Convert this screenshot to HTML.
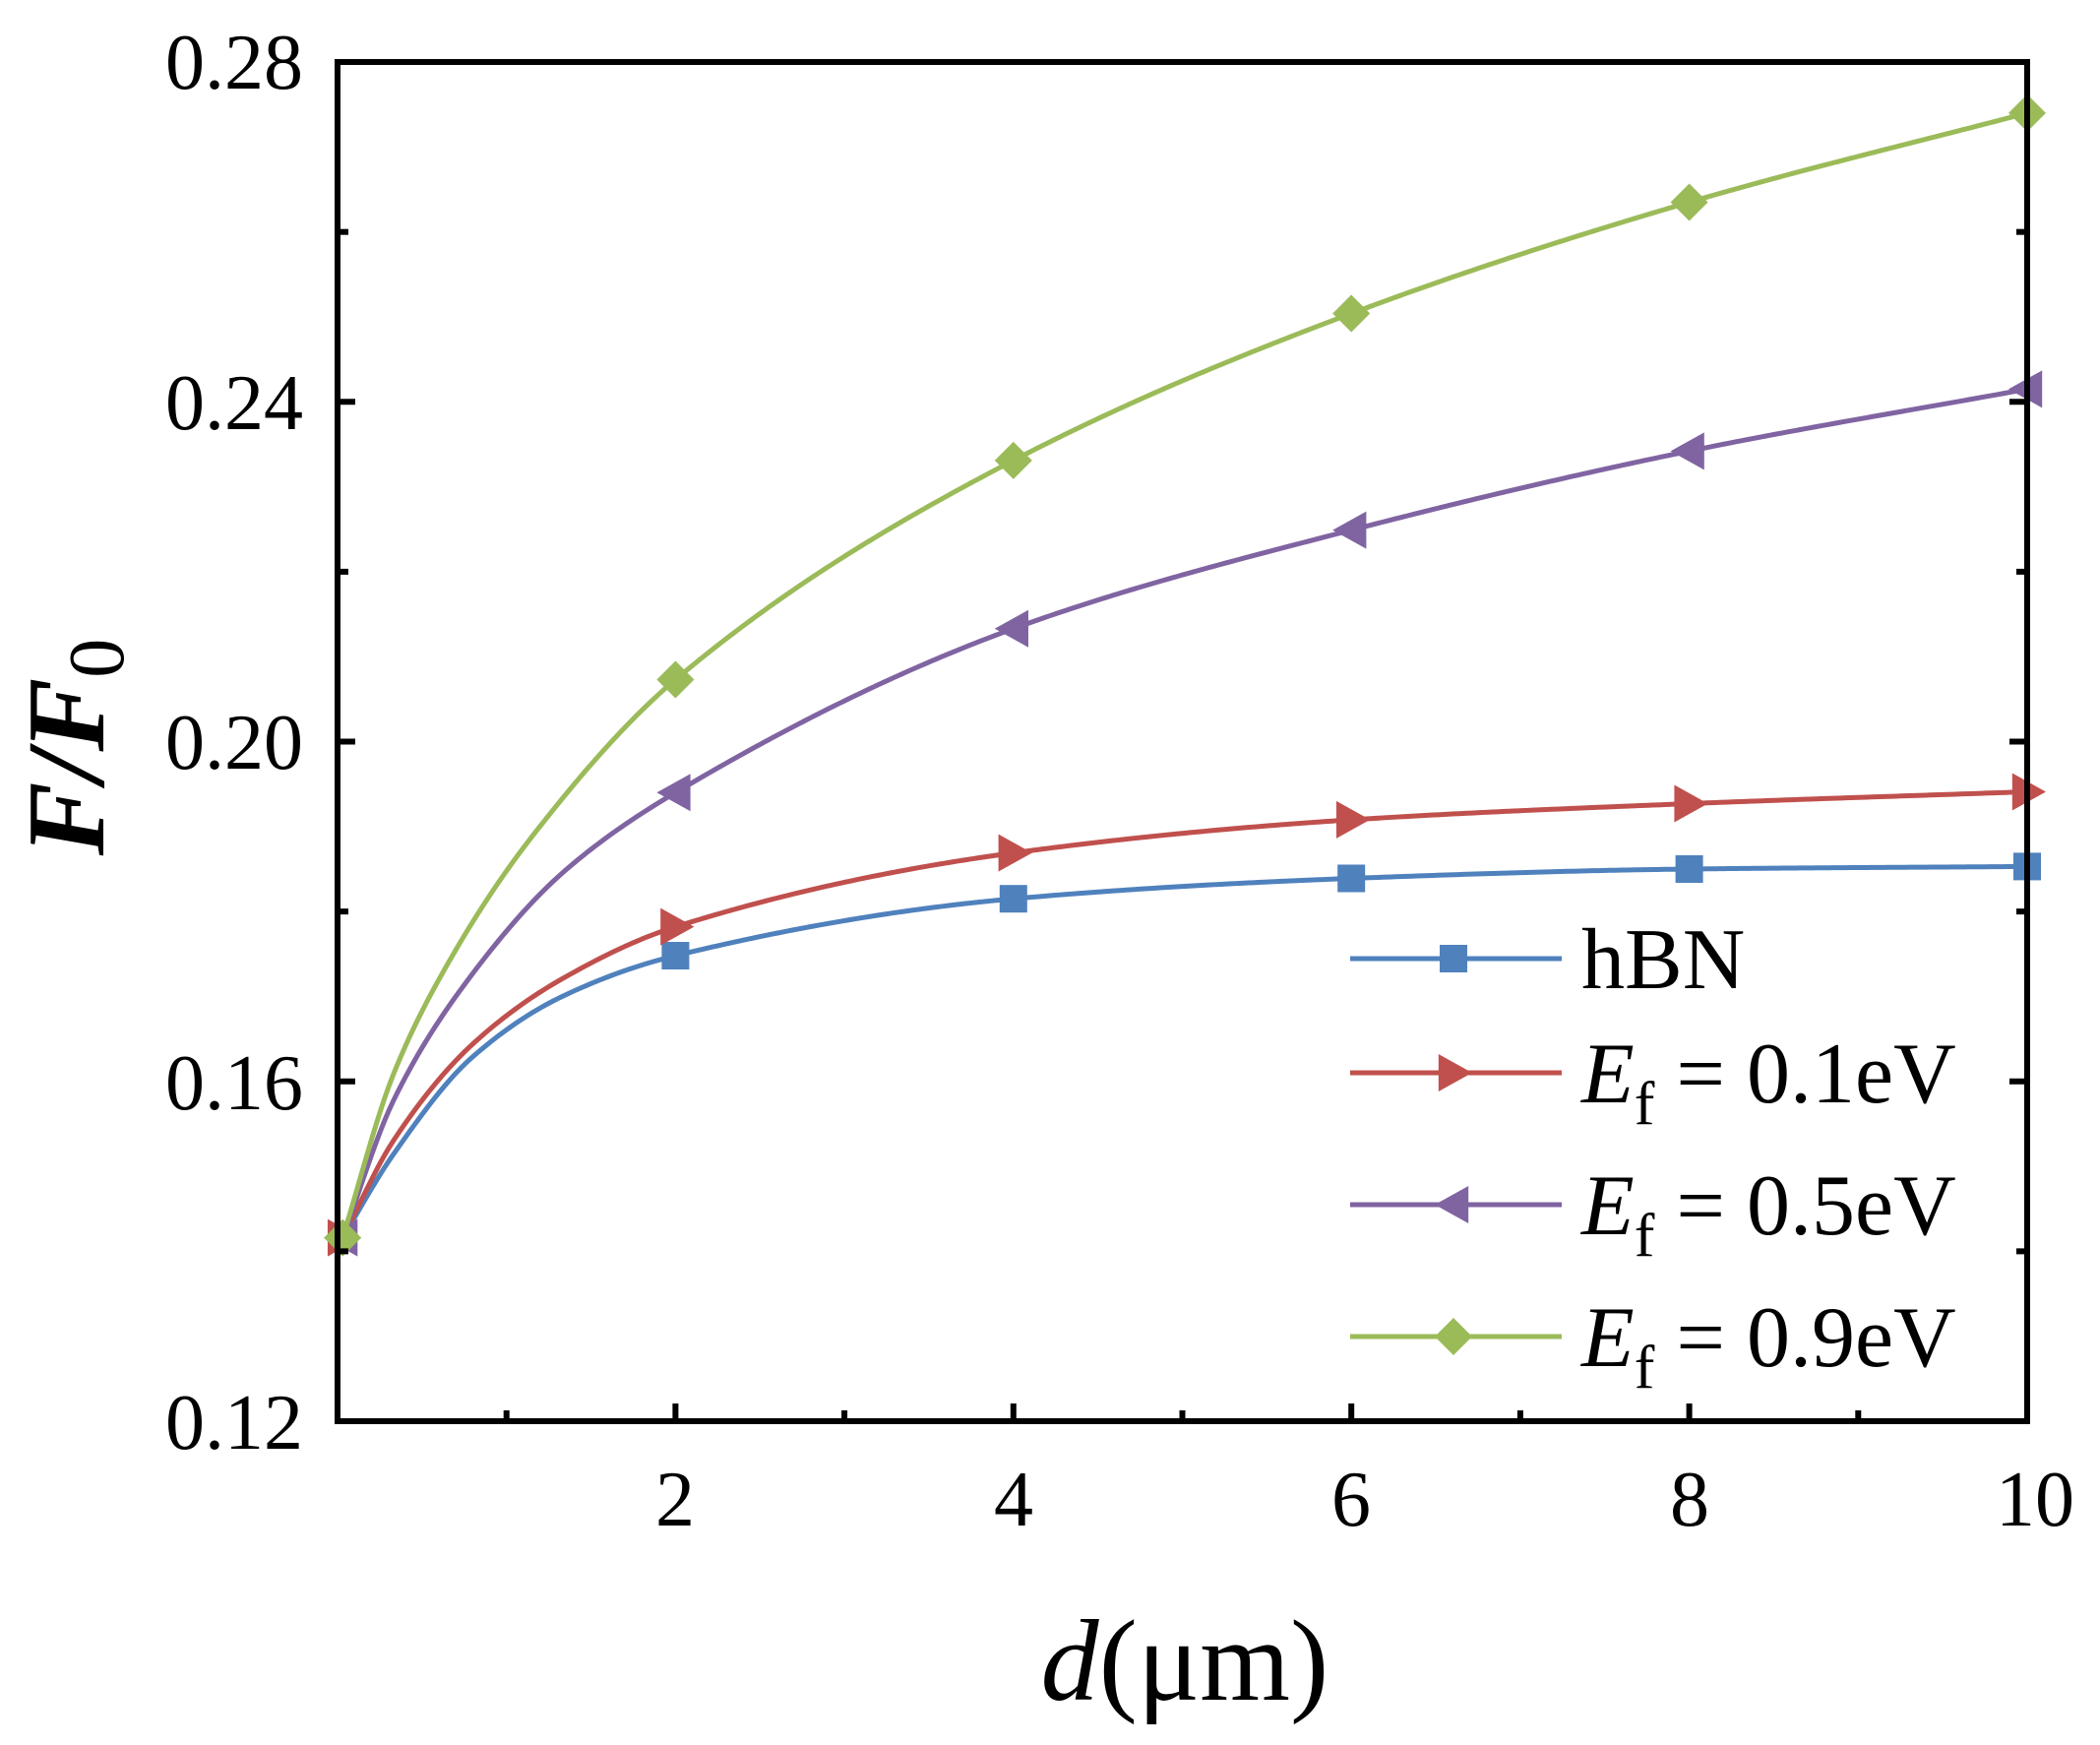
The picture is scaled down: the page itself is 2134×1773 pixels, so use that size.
<!DOCTYPE html>
<html><head><meta charset="utf-8"><style>
html,body{margin:0;padding:0;background:#fff;}
svg{display:block;}
text{font-family:"Liberation Serif",serif;fill:#000;}
</style></head><body>
<svg id="s" width="2134" height="1773" viewBox="0 0 2134 1773" xmlns="http://www.w3.org/2000/svg">
<g id="curves"></g>
<g id="axes" stroke="#000" stroke-width="6" fill="none"></g>
<g font-size="80" text-anchor="end">
<text x="308" y="90">0.28</text>
<text x="308" y="436">0.24</text>
<text x="308" y="781">0.20</text>
<text x="308" y="1127">0.16</text>
<text x="308" y="1472">0.12</text>
</g>
<g font-size="80" text-anchor="middle">
<text x="686" y="1550">2</text>
<text x="1030" y="1550">4</text>
<text x="1373" y="1550">6</text>
<text x="1717" y="1550">8</text>
<text x="2068" y="1550">10</text>
</g>
<text x="1204" y="1727" font-size="118" text-anchor="middle"><tspan font-style="italic">d</tspan>(μm)</text>
<text transform="translate(105,759) rotate(-90)" font-size="112" text-anchor="middle" font-weight="bold" font-style="italic">F/F<tspan font-size="80" dy="20" font-style="normal" font-weight="normal">0</tspan></text>
<g id="legend" font-size="88"></g>
</svg>
<script>
const X=x=>343+171.7*x, Y=v=>1444-8631*(v-0.12);
const S=[
 {c:"#4f81bd",m:"sq",x:[0.03,0.33,0.8,1.34,2,4,6,8,10],v:[0.1416,0.1514,0.1629,0.1701,0.1748,0.1815,0.1839,0.185,0.1853]},
 {c:"#c0504d",m:"r",x:[0.03,0.33,0.8,1.34,2,4,6,8,10],v:[0.1416,0.153,0.1644,0.1722,0.1782,0.1869,0.1908,0.1927,0.1941]},
 {c:"#8064a2",m:"l",x:[0.03,0.33,0.8,1.34,2,4,6,8,10],v:[0.1416,0.1577,0.1727,0.1847,0.1940,0.2133,0.2249,0.2342,0.2415]},
 {c:"#9bbb59",m:"d",x:[0.03,0.33,0.68,1.15,2,4,6,8,10],v:[0.1416,0.1608,0.1748,0.1888,0.2073,0.2331,0.2504,0.2635,0.274]}];
const NS="http://www.w3.org/2000/svg";
function el(t,a,p){const e=document.createElementNS(NS,t);for(const k in a)e.setAttribute(k,a[k]);p.appendChild(e);return e;}
function mk(type,x,y,c,p){const r=19;
 if(type=="sq")el("rect",{x:x-14,y:y-14,width:28,height:28,fill:c},p);
 else if(type=="r")el("polygon",{points:`${x+r},${y} ${x-r*0.8},${y-r} ${x-r*0.8},${y+r}`,fill:c},p);
 else if(type=="l")el("polygon",{points:`${x-r},${y} ${x+r*0.8},${y-r} ${x+r*0.8},${y+r}`,fill:c},p);
 else el("polygon",{points:`${x},${y-r} ${x+r},${y} ${x},${y+r} ${x-r},${y}`,fill:c},p);}
function mono(xs,ys){const n=xs.length,d=[],m=new Array(n);
 for(let i=0;i<n-1;i++)d.push((ys[i+1]-ys[i])/(xs[i+1]-xs[i]));
 m[0]=d[0];m[n-1]=d[n-2];
 for(let i=1;i<n-1;i++){if(d[i-1]*d[i]<=0)m[i]=0;else{const w1=2*(xs[i+1]-xs[i])+(xs[i]-xs[i-1]),w2=(xs[i+1]-xs[i])+2*(xs[i]-xs[i-1]);m[i]=(w1+w2)/(w1/d[i-1]+w2/d[i]);}}
 return x=>{let i=0;while(i<n-2&&x>xs[i+1])i++;const h=xs[i+1]-xs[i],t=(x-xs[i])/h,t2=t*t,t3=t2*t;
  return (2*t3-3*t2+1)*ys[i]+(t3-2*t2+t)*h*m[i]+(-2*t3+3*t2)*ys[i+1]+(t3-t2)*h*m[i+1];};}
const g=document.getElementById("curves");
S.forEach(s=>{const f=mono(s.x,s.v);let d="";
 for(let k=0;k<=400;k++){const x=0.03+(10-0.03)*k/400;d+=(k?"L":"M")+X(x).toFixed(2)+","+Y(f(x)).toFixed(2);}
 el("path",{d:d,stroke:s.c,"stroke-width":5,fill:"none","stroke-linejoin":"round"},g);
 [0.03,2,4,6,8,10].forEach(x=>mk(s.m,X(x),Y(f(x)),s.c,g));});
const a=document.getElementById("axes");
el("rect",{x:343,y:63,width:1717,height:1381},a);
for(let i=1;i<10;i++){const x=X(i),L=i%2?11:18;el("line",{x1:x,y1:1444,x2:x,y2:1444-L},a);}
for(let i=1;i<8;i++){const y=Y(0.12+0.02*i),L=i%2?11:18;el("line",{x1:343,y1:y,x2:343+L,y2:y},a);el("line",{x1:2060,y1:y,x2:2060-L,y2:y},a);}
const lg=document.getElementById("legend");
const labs=["hBN","0.1eV","0.5eV","0.9eV"],ly=[974,1090,1224,1358];
S.forEach((s,i)=>{el("line",{x1:1372,y1:ly[i],x2:1587,y2:ly[i],stroke:s.c,"stroke-width":5},lg);mk(s.m,1477,ly[i],s.c,lg);
 const t=el("text",{x:1607,y:ly[i]+30},lg);
 if(i==0)t.textContent="hBN";
 else t.innerHTML=`<tspan font-style="italic">E</tspan><tspan font-size="62" dy="22">f</tspan><tspan dy="-22"> = ${labs[i]}</tspan>`;});
</script>
</body></html>
